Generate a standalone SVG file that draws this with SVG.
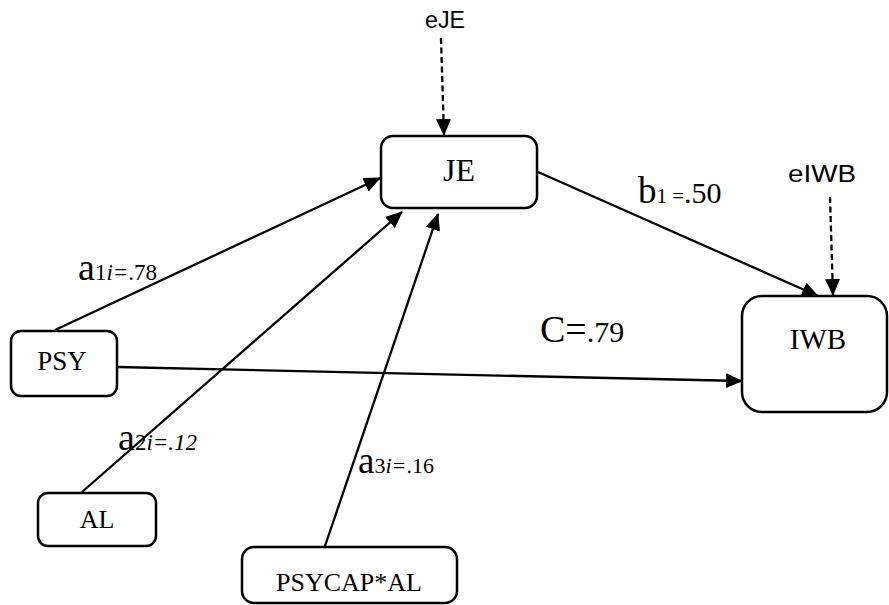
<svg xmlns="http://www.w3.org/2000/svg" width="889" height="605" viewBox="0 0 889 605">
<style>
.box{fill:#fff;stroke:#000;stroke-width:2.5}
.lbl{font-family:"Liberation Serif","Times New Roman",serif;fill:#000;text-anchor:middle}
.err{font-family:"Liberation Sans",Arial,sans-serif;font-size:23px;fill:#000}
.edge{stroke:#000;stroke-width:2.3;fill:none}
.dash{stroke-dasharray:6 3.5}
.coef{font-family:"Liberation Serif","Times New Roman",serif;fill:#000}
</style>
<defs>
<marker id="arr" markerUnits="userSpaceOnUse" markerWidth="17" markerHeight="15" refX="16" refY="7.5" orient="auto">
<path d="M0,0 L17,7.5 L0,15 Z" fill="#000"/>
</marker>
</defs>
<rect width="889" height="605" fill="#fff"/>
<g id="connectors">
<line class="edge dash" x1="441" y1="38" x2="444" y2="135" marker-end="url(#arr)"/>
<line class="edge dash" x1="830" y1="197" x2="833" y2="295" marker-end="url(#arr)"/>
<line class="edge" x1="55" y1="330" x2="380" y2="178" marker-end="url(#arr)"/>
<line class="edge" x1="82" y1="492" x2="402" y2="212" marker-end="url(#arr)"/>
<line class="edge" x1="325" y1="546" x2="438" y2="214" marker-end="url(#arr)"/>
<line class="edge" x1="538" y1="172" x2="818" y2="296" marker-end="url(#arr)"/>
<line class="edge" x1="117" y1="367" x2="742" y2="381" marker-end="url(#arr)"/>
</g>
<g id="eJE"><text class="err" x="425" y="28" textLength="40" lengthAdjust="spacingAndGlyphs">eJE</text></g>
<g id="eIWB"><text class="err" x="788" y="182" textLength="68" lengthAdjust="spacingAndGlyphs">eIWB</text></g>
<g id="JE"><rect class="box" x="381" y="136" width="156" height="72" rx="12"/><text class="lbl" x="459" y="181" font-size="32">JE</text></g>
<g id="IWB"><rect class="box" x="742" y="296" width="145" height="116" rx="20"/><text class="lbl" x="818" y="349" font-size="29">IWB</text></g>
<g id="PSY"><rect class="box" x="11" y="331" width="106" height="65" rx="10"/><text class="lbl" x="62" y="370" font-size="27">PSY</text></g>
<g id="AL"><rect class="box" x="38" y="493" width="118" height="53" rx="10"/><text class="lbl" x="97" y="528" font-size="26">AL</text></g>
<g id="PSYCAPAL"><rect class="box" x="242" y="547" width="215" height="56" rx="12"/><text class="lbl" x="349" y="591" font-size="26">PSYCAP*AL</text></g>
<g id="labels">
<text class="coef" x="78" y="280"><tspan font-size="38">a</tspan><tspan font-size="23">1</tspan><tspan font-size="23" font-style="italic">i=</tspan><tspan font-size="23">.78</tspan></text>
<text class="coef" x="118" y="450"><tspan font-size="38">a</tspan><tspan font-size="23">2</tspan><tspan font-size="23" font-style="italic">i=.12</tspan></text>
<text class="coef" x="358" y="473"><tspan font-size="37">a</tspan><tspan font-size="22">3</tspan><tspan font-size="22" font-style="italic">i=</tspan><tspan font-size="22">.16</tspan></text>
<text class="coef" x="638" y="203"><tspan font-size="37">b</tspan><tspan font-size="21">1 =</tspan><tspan font-size="30">.50</tspan></text>
<text class="coef" x="540" y="342"><tspan font-size="38">C=</tspan><tspan font-size="30">.79</tspan></text>
</g>
</svg>
